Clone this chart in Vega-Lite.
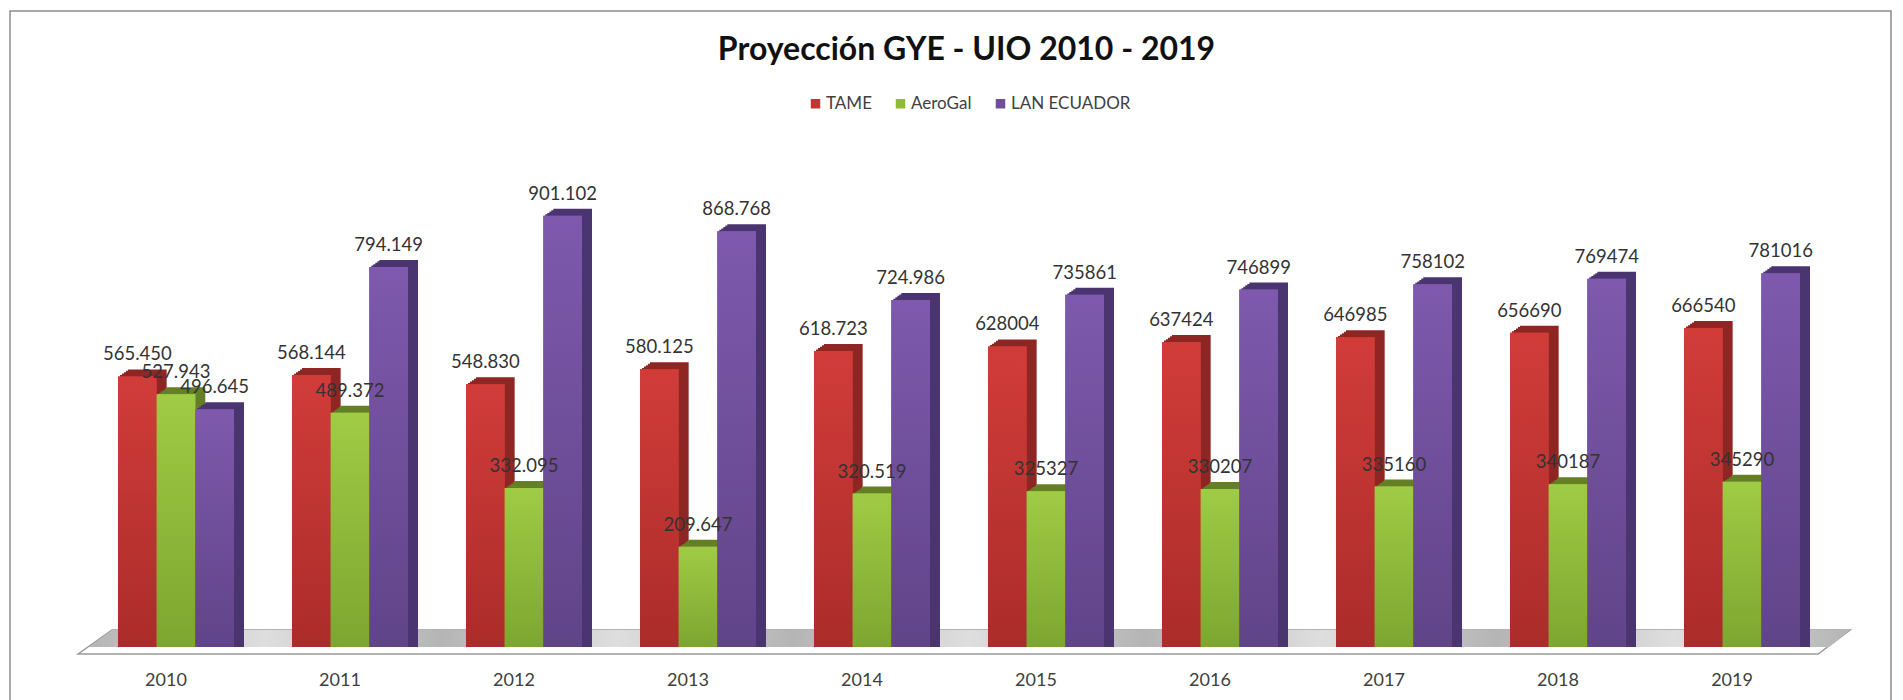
{
"$schema":"https://vega.github.io/schema/vega-lite/v6.json",
"autosize":{"type":"none"},
"padding":{"left":10,"top":11,"right":12,"bottom":0},
"width":1881,"height":690,
"background":"#ffffff",
"config":{"view":{"stroke":"#8c8c8c","strokeWidth":1.5},"font":"Lato"},
"title":{"text":"Proyección GYE - UIO 2010 - 2019","font":"Lato","fontSize":32,"fontWeight":"bold","color":"#111111","anchor":"middle","frame":"group","dx":16,"offset":-71,"baseline":"middle"},
"datasets":{
"bars":[
{"year":"2010","airline":"TAME","passengers":565450,"label":"565.450"},{"year":"2010","airline":"AeroGal","passengers":527943,"label":"527.943"},{"year":"2010","airline":"LAN ECUADOR","passengers":496645,"label":"496.645"},
{"year":"2011","airline":"TAME","passengers":568144,"label":"568.144"},{"year":"2011","airline":"AeroGal","passengers":489372,"label":"489.372"},{"year":"2011","airline":"LAN ECUADOR","passengers":794149,"label":"794.149"},
{"year":"2012","airline":"TAME","passengers":548830,"label":"548.830"},{"year":"2012","airline":"AeroGal","passengers":332095,"label":"332.095"},{"year":"2012","airline":"LAN ECUADOR","passengers":901102,"label":"901.102"},
{"year":"2013","airline":"TAME","passengers":580125,"label":"580.125"},{"year":"2013","airline":"AeroGal","passengers":209647,"label":"209.647"},{"year":"2013","airline":"LAN ECUADOR","passengers":868768,"label":"868.768"},
{"year":"2014","airline":"TAME","passengers":618723,"label":"618.723"},{"year":"2014","airline":"AeroGal","passengers":320519,"label":"320.519"},{"year":"2014","airline":"LAN ECUADOR","passengers":724986,"label":"724.986"},
{"year":"2015","airline":"TAME","passengers":628004,"label":"628004"},{"year":"2015","airline":"AeroGal","passengers":325327,"label":"325327"},{"year":"2015","airline":"LAN ECUADOR","passengers":735861,"label":"735861"},
{"year":"2016","airline":"TAME","passengers":637424,"label":"637424"},{"year":"2016","airline":"AeroGal","passengers":330207,"label":"330207"},{"year":"2016","airline":"LAN ECUADOR","passengers":746899,"label":"746899"},
{"year":"2017","airline":"TAME","passengers":646985,"label":"646985"},{"year":"2017","airline":"AeroGal","passengers":335160,"label":"335160"},{"year":"2017","airline":"LAN ECUADOR","passengers":758102,"label":"758102"},
{"year":"2018","airline":"TAME","passengers":656690,"label":"656690"},{"year":"2018","airline":"AeroGal","passengers":340187,"label":"340187"},{"year":"2018","airline":"LAN ECUADOR","passengers":769474,"label":"769474"},
{"year":"2019","airline":"TAME","passengers":666540,"label":"666540"},{"year":"2019","airline":"AeroGal","passengers":345290,"label":"345290"},{"year":"2019","airline":"LAN ECUADOR","passengers":781016,"label":"781016"}
],
"floor":[
{"pos":2009.437,"low":-14600,"high":-14600},
{"pos":2009.632,"low":-14600,"high":35500},
{"pos":2019.437,"low":-14600,"high":35500},
{"pos":2019.621,"low":35500,"high":35500}
],
"floorTop":[
{"pos":2009.5,"low":0,"high":0},
{"pos":2009.632,"low":0,"high":35500},
{"pos":2019.5,"low":0,"high":35500},
{"pos":2019.621,"low":35500,"high":35500}
]
},
"layer":[
{"data":{"name":"floor"},
 "mark":{"type":"area","fill":"#ffffff","stroke":"#9a9a9a","strokeWidth":1.5},
 "encoding":{
  "x":{"field":"pos","type":"quantitative","axis":null,"scale":{"domain":[2009.046,2019.856],"nice":false,"zero":false}},
  "y":{"field":"high","type":"quantitative","axis":null,"scale":{"domain":[-112800,1328900],"nice":false,"zero":false}},
  "y2":{"field":"low"}}},
{"data":{"name":"floorTop"},
 "mark":{"type":"area","fill":{"gradient":"linear","x1":0,"x2":1,"y1":0,"y2":0,"stops":[{"offset":0,"color":"#b5b5b5"},{"offset":0.1,"color":"#dedede"},{"offset":0.2,"color":"#b5b5b5"},{"offset":0.3,"color":"#dedede"},{"offset":0.4,"color":"#b5b5b5"},{"offset":0.5,"color":"#dedede"},{"offset":0.6,"color":"#b5b5b5"},{"offset":0.7,"color":"#dedede"},{"offset":0.8,"color":"#b5b5b5"},{"offset":0.9,"color":"#dedede"},{"offset":1,"color":"#b5b5b5"}]}},
 "encoding":{
  "x":{"field":"pos","type":"quantitative","axis":null,"scale":{"domain":[2009.046,2019.856],"nice":false,"zero":false}},
  "y":{"field":"high","type":"quantitative","axis":null,"scale":{"domain":[-112800,1328900],"nice":false,"zero":false}},
  "y2":{"field":"low"}}},
{"data":{"name":"bars"},
 "encoding":{
  "xOffset":{"field":"airline","type":"nominal","scale":{"domain":["TAME","AeroGal","LAN ECUADOR"],"paddingInner":0,"paddingOuter":0}},
  "y":{"field":"passengers","type":"quantitative","axis":null,"stack":null,"scale":{"domain":[-112800,1328900],"nice":false,"zero":false}}
 },
 "layer":[
  {"mark":{"type":"bar","yOffset":-7},"encoding":{"x":{"field":"year","type":"ordinal","axis":null,"scale":{"range":[10,1891],"paddingInner":0.3333,"paddingOuter":0.5718,"align":0.5427}},"color":{"field":"airline","type":"nominal","legend":null,"scale":{"domain":["TAME","AeroGal","LAN ECUADOR"],"range":["#8e2624","#647f25","#4a3570"]}}}},
  {"mark":{"type":"bar","yOffset":-5.6},"encoding":{"x":{"field":"year","type":"ordinal","axis":null,"scale":{"range":[8,1889],"paddingInner":0.3333,"paddingOuter":0.5718,"align":0.5427}},"color":{"field":"airline","type":"nominal","legend":null,"scale":{"domain":["TAME","AeroGal","LAN ECUADOR"],"range":["#8e2624","#647f25","#4a3570"]}}}},
  {"mark":{"type":"bar","yOffset":-4.2},"encoding":{"x":{"field":"year","type":"ordinal","axis":null,"scale":{"range":[6,1887],"paddingInner":0.3333,"paddingOuter":0.5718,"align":0.5427}},"color":{"field":"airline","type":"nominal","legend":null,"scale":{"domain":["TAME","AeroGal","LAN ECUADOR"],"range":["#8e2624","#647f25","#4a3570"]}}}},
  {"mark":{"type":"bar","yOffset":-2.8},"encoding":{"x":{"field":"year","type":"ordinal","axis":null,"scale":{"range":[4,1885],"paddingInner":0.3333,"paddingOuter":0.5718,"align":0.5427}},"color":{"field":"airline","type":"nominal","legend":null,"scale":{"domain":["TAME","AeroGal","LAN ECUADOR"],"range":["#8e2624","#647f25","#4a3570"]}}}},
  {"mark":{"type":"bar","yOffset":-1.4},"encoding":{"x":{"field":"year","type":"ordinal","axis":null,"scale":{"range":[2,1883],"paddingInner":0.3333,"paddingOuter":0.5718,"align":0.5427}},"color":{"field":"airline","type":"nominal","legend":null,"scale":{"domain":["TAME","AeroGal","LAN ECUADOR"],"range":["#8e2624","#647f25","#4a3570"]}}}},
  {"mark":{"type":"bar"},"encoding":{
    "x":{"field":"year","type":"ordinal","title":null,"scale":{"range":[0,1881],"paddingInner":0.3333,"paddingOuter":0.5718,"align":0.5427},
     "axis":{"domain":false,"ticks":false,"labelAngle":0,"labelOffset":-10,"labelPadding":-30,"labelFont":"Lato","labelFontSize":18,"labelColor":"#404040","grid":false}},
    "color":{"field":"airline","type":"nominal","scale":{"domain":["TAME","AeroGal","LAN ECUADOR"],"range":["#c43532","#8fbb39","#6f4e9c"]},
    "legend":{"title":null,"orient":"none","legendX":797,"legendY":84,"direction":"horizontal","columns":3,"symbolType":"square","symbolSize":90,"labelFont":"Lato","labelFontSize":17,"labelColor":"#404040","columnPadding":20,"labelOffset":2}}}},
  {"transform":[{"filter":"datum.airline === 'TAME'"}],"mark":{"type":"bar","fill":{"gradient":"linear","x1":0,"y1":0,"x2":0,"y2":1,"stops":[{"offset":0,"color":"#d13c39"},{"offset":1,"color":"#ab2c2a"}]}},
   "encoding":{"x":{"field":"year","type":"ordinal","axis":null,"scale":{"range":[0,1881],"paddingInner":0.3333,"paddingOuter":0.5718,"align":0.5427}}}},
  {"transform":[{"filter":"datum.airline === 'AeroGal'"}],"mark":{"type":"bar","fill":{"gradient":"linear","x1":0,"y1":0,"x2":0,"y2":1,"stops":[{"offset":0,"color":"#9fcb45"},{"offset":1,"color":"#7da62f"}]}},
   "encoding":{"x":{"field":"year","type":"ordinal","axis":null,"scale":{"range":[0,1881],"paddingInner":0.3333,"paddingOuter":0.5718,"align":0.5427}}}},
  {"transform":[{"filter":"datum.airline === 'LAN ECUADOR'"}],"mark":{"type":"bar","fill":{"gradient":"linear","x1":0,"y1":0,"x2":0,"y2":1,"stops":[{"offset":0,"color":"#7e59ad"},{"offset":1,"color":"#604488"}]}},
   "encoding":{"x":{"field":"year","type":"ordinal","axis":null,"scale":{"range":[0,1881],"paddingInner":0.3333,"paddingOuter":0.5718,"align":0.5427}}}},
  {"mark":{"type":"text","dy":-22,"font":"Lato","fontSize":18.5,"color":"#333333","baseline":"middle","align":"center"},"encoding":{
    "x":{"field":"year","type":"ordinal","axis":null,"scale":{"range":[0,1881],"paddingInner":0.3333,"paddingOuter":0.5718,"align":0.5427}},
    "text":{"field":"label","type":"nominal"}}}
 ],
 "resolve":{"scale":{"color":"independent","x":"independent"},"axis":{"x":"independent"}}
}
],
"resolve":{"scale":{"x":"independent"},"axis":{"x":"independent"}}
}
